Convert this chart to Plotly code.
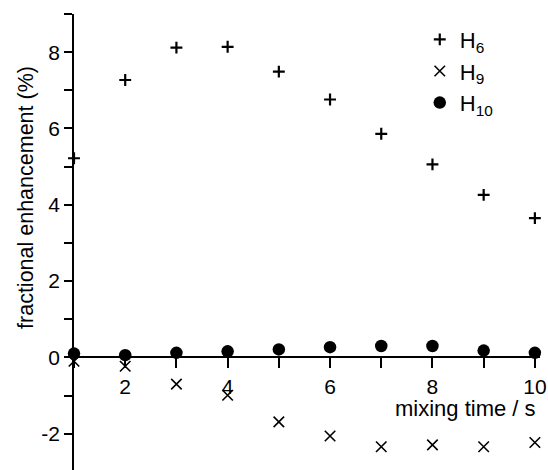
import plotly.graph_objects as go

mixing_time = [1, 2, 3, 4, 5, 6, 7, 8, 9, 10]
h6 = [5.22, 7.27, 8.12, 8.14, 7.49, 6.76, 5.86, 5.06, 4.26, 3.65]
h9 = [-0.10, -0.23, -0.70, -0.99, -1.69, -2.06, -2.34, -2.29, -2.34, -2.23]
h10 = [0.10, 0.06, 0.12, 0.16, 0.21, 0.27, 0.30, 0.30, 0.18, 0.12]

x_ticks = [2, 4, 6, 8, 10]
x_ticktext = ["2", "4", "6", "8", "10"]
y_ticks = [-2, 0, 2, 4, 6, 8]
y_ticktext = ["-2", "0", "2", "4", "6", "8"]

YMIN, YMAX = -2.95, 9.0
XMIN, XMAX = 1.0, 10.1
FONT = "Liberation Sans, Arial, Helvetica, sans-serif"

fig = go.Figure()
fig.add_trace(go.Scatter(
    x=mixing_time, y=h6, mode="markers", name="H<sub>6</sub>",
    legendgroup="a",
    marker=dict(symbol="cross-thin", size=8.5, color="black",
                line=dict(color="black", width=2.2)),
    cliponaxis=False))
fig.add_trace(go.Scatter(
    x=mixing_time, y=h9, mode="markers", name="H<sub>9</sub>",
    legendgroup="b",
    marker=dict(symbol="x-thin", size=10.5, color="black",
                line=dict(color="black", width=1.6)),
    cliponaxis=False))
fig.add_trace(go.Scatter(
    x=mixing_time, y=h10, mode="markers", name="H<sub>10</sub>",
    legendgroup="c",
    marker=dict(symbol="circle", size=12.5, color="black"),
    cliponaxis=False))

fig.update_layout(
    width=548, height=470,
    margin=dict(l=73.5, r=8, t=14, b=0, pad=0),
    paper_bgcolor="white", plot_bgcolor="white",
    font=dict(family=FONT, size=21, color="black"),
    showlegend=True,
    legend=dict(x=0.742, y=0.99, xanchor="left", yanchor="top",
                bgcolor="rgba(0,0,0,0)", font=dict(size=22),
                tracegroupgap=0, itemsizing="trace"),
    xaxis=dict(range=[XMIN, XMAX], showgrid=False, zeroline=False,
               showline=True, linecolor="black", linewidth=1.8,
               anchor="free", position=(0 - YMIN) / (YMAX - YMIN),
               tickmode="array", tickvals=x_ticks, ticktext=x_ticktext,
               ticks="outside", ticklen=10, tickwidth=1.6, tickcolor="black",
               minor=dict(dtick=1, tick0=0, ticks="outside", ticklen=10,
                          tickwidth=1.6, tickcolor="black", showgrid=False),
               tickfont=dict(size=21)),
    yaxis=dict(range=[YMIN, YMAX], showgrid=False, zeroline=False,
               showline=True, linecolor="black", linewidth=1.8,
               tickmode="array", tickvals=y_ticks, ticktext=y_ticktext,
               ticks="outside", ticklen=8, tickwidth=1.6, tickcolor="black",
               minor=dict(dtick=1, tick0=0, ticks="outside", ticklen=8,
                          tickwidth=1.6, tickcolor="black", showgrid=False),
               tickfont=dict(size=21)),
    annotations=[
        dict(text="mixing time / s", x=10.07, y=-1.33, xref="x", yref="y",
             xanchor="right", yanchor="middle", showarrow=False,
             font=dict(size=22)),
        dict(text="fractional enhancement (%)", x=-0.102, y=0.5976,
             xref="paper", yref="paper", xanchor="center", yanchor="middle",
             textangle=-90, showarrow=False, font=dict(size=21.5)),
    ],
)

fig.write_html("out.html")
